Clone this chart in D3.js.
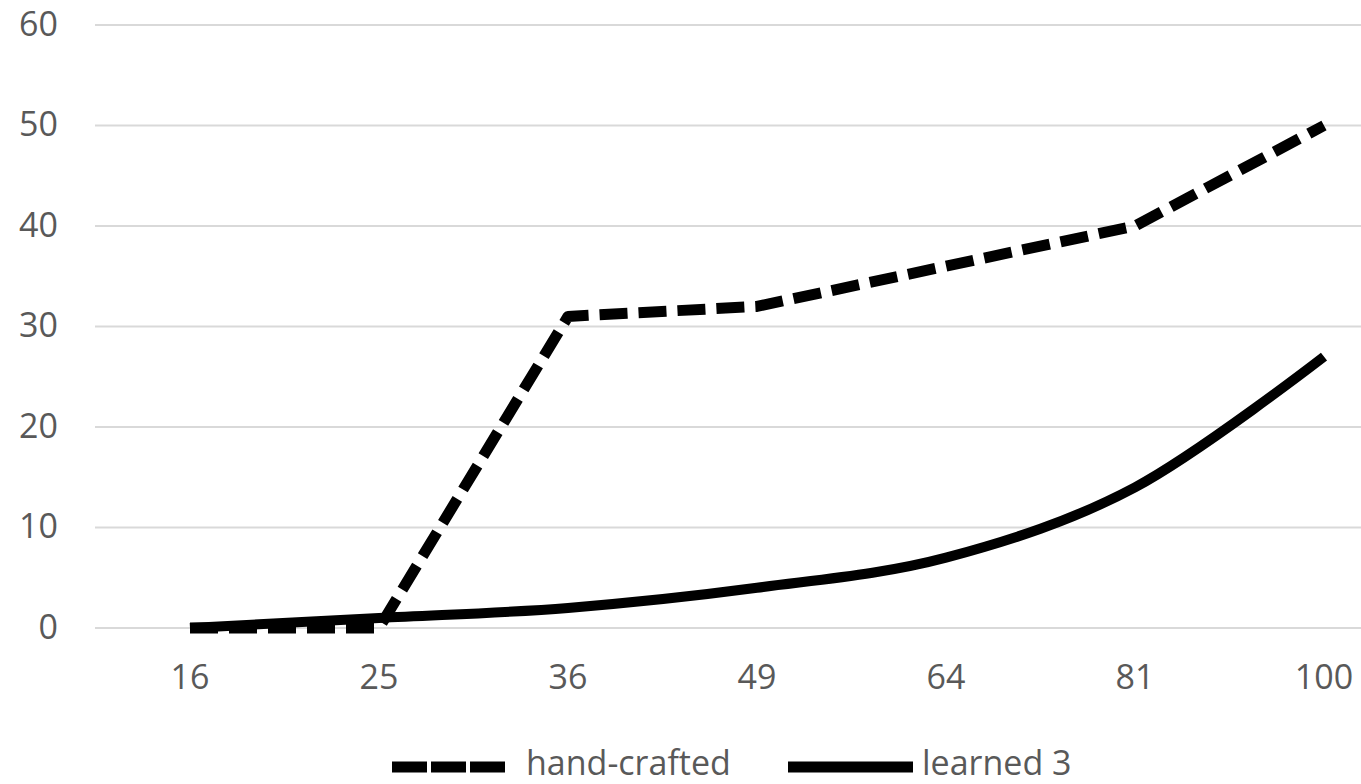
<!DOCTYPE html>
<html>
<head>
<meta charset="utf-8">
<script src="https://cdn.jsdelivr.net/npm/d3@7"></script>
<style>
  html, body { margin: 0; padding: 0; background: #fff; }
  svg { display: block; }
  text { font-family: "Open Sans", "Liberation Sans", sans-serif; fill: #595959; }
</style>
</head>
<body>
<svg id="chart" width="1361" height="784"></svg>
<script>
const categories = ["16", "25", "36", "49", "64", "81", "100"];
const handCrafted = [0, 0, 31, 32, 36, 40, 50];
const learned3 = [0, 1, 2, 4, 7, 14, 27];
const yTicks = [0, 10, 20, 30, 40, 50, 60];
const seriesNames = ["hand-crafted", "learned 3"];

const svg = d3.select("#chart");
const W = 1361;

const x = d3.scaleBand().domain(categories).range([95.5, 1418.5]);
const y = d3.scaleLinear().domain([0, 60]).range([628, 25]);
const cx = c => x(c) + x.bandwidth() / 2;

// gridlines
svg.append("g").selectAll("line").data(yTicks).join("line")
  .attr("x1", 95).attr("x2", W)
  .attr("y1", d => y(d)).attr("y2", d => y(d))
  .attr("stroke", "#d9d9d9").attr("stroke-width", 2);

// y tick labels
svg.append("g").selectAll("text").data(yTicks).join("text")
  .attr("x", 58).attr("y", d => y(d) + 10.5)
  .attr("text-anchor", "end")
  .style("font-size", "34px")
  .text(d => d);

// x tick labels
svg.append("g").selectAll("text").data(categories).join("text")
  .attr("x", d => cx(d)).attr("y", 689)
  .attr("text-anchor", "middle")
  .style("font-size", "34px")
  .text(d => d);

// lines
const lineLinear = d3.line().x((d, i) => cx(categories[i])).y(d => y(d));
const lineSmooth = d3.line().x((d, i) => cx(categories[i])).y(d => y(d))
  .curve(d3.curveCardinal.tension(0));

svg.append("path").datum(learned3)
  .attr("d", lineSmooth)
  .attr("fill", "none").attr("stroke", "#000").attr("stroke-width", 10)
  .attr("stroke-linejoin", "round");

svg.append("path").datum(handCrafted)
  .attr("d", lineLinear)
  .attr("fill", "none").attr("stroke", "#000").attr("stroke-width", 11)
  .attr("stroke-dasharray", "28,11")
  .attr("stroke-linejoin", "round");

// legend
const lg = svg.append("g");
lg.append("line").attr("x1", 392).attr("x2", 505).attr("y1", 767).attr("y2", 767)
  .attr("stroke", "#000").attr("stroke-width", 11).attr("stroke-dasharray", "35,4");
lg.append("text").attr("x", 526).attr("y", 775).style("font-size", "34px").text(seriesNames[0]);
lg.append("line").attr("x1", 788).attr("x2", 913).attr("y1", 767).attr("y2", 767)
  .attr("stroke", "#000").attr("stroke-width", 11);
lg.append("text").attr("x", 922).attr("y", 775).style("font-size", "34px").text(seriesNames[1]);
</script>
</body>
</html>
